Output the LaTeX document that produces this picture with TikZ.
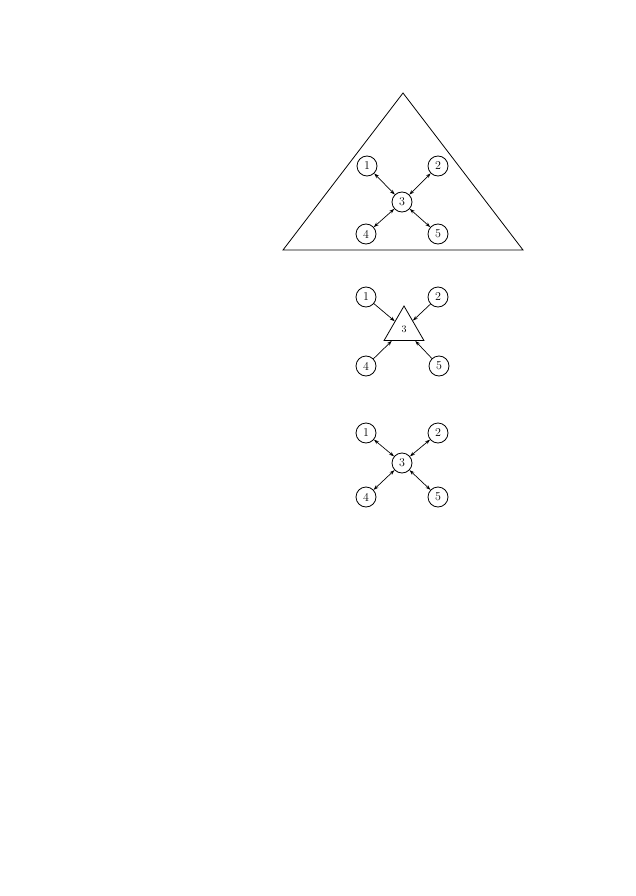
\documentclass[tikz,border=0pt]{standalone}
\usetikzlibrary{arrows.meta,shapes.geometric}

\begin{document}
\begin{tikzpicture}[x=1pt,y=-1pt,
	dot/.style={draw,circle,line width=.8pt,minimum size=20pt,inner sep=0pt,font=\fontsize{12}{14}\selectfont},
	tri/.style={draw,regular polygon,regular polygon sides=3,line width=.8pt,minimum size=46pt,inner sep=0pt,font=\fontsize{10}{12}\selectfont},
	link/.style={line width=.7pt,>={Stealth[length=5pt,width=3.5pt]}}]
	\useasboundingbox (0,0) rectangle (635,896);
	% outer triangle
	\draw[line width=.8pt] (283,250)--(403,93)--(523,250)--cycle;
	\foreach \n/\x/\y in {1/367/166,2/438/166,3/402/202,4/366/234,5/438/234} \node[dot] (a\n) at (\x,\y) {\n};
	\foreach \n in {1,2,4,5} \draw[link,<->] (a\n)--(a3);
	% middle
	\node[tri] (b3) at (404,329) {3};
	\foreach \n/\x/\y in {1/366/297,2/438/297,4/366/366,5/439/366} \node[dot] (b\n) at (\x,\y) {\n};
	\foreach \n in {1,2,4,5} \draw[link,->] (b\n)--(b3);
	% bottom
	\foreach \n/\x/\y in {1/366/433,2/438/433,3/402/463,4/366/497,5/438/497} \node[dot] (c\n) at (\x,\y) {\n};
	\foreach \n in {1,2,4,5} \draw[link,<->] (c\n)--(c3);
\end{tikzpicture}
\end{document}
